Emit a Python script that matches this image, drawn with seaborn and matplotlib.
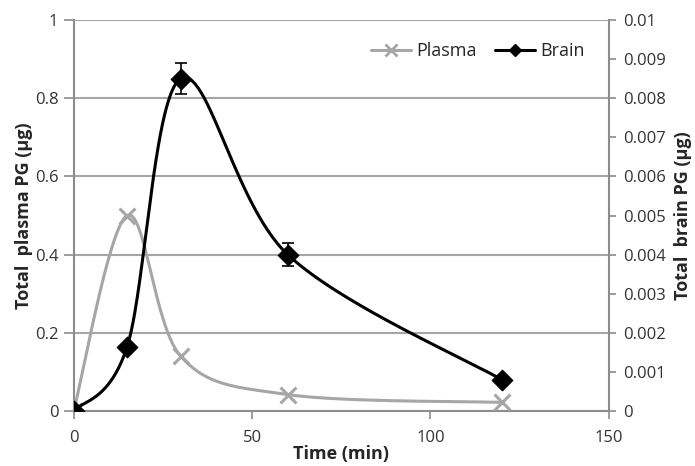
import numpy as np
import pandas as pd
import matplotlib
matplotlib.use("Agg")
import matplotlib.pyplot as plt
import seaborn as sns
from matplotlib.lines import Line2D

# data
time_min = [0, 15, 30, 60, 120]
plasma_pg = [0.0, 0.50, 0.14, 0.042, 0.022]
brain_pg = [0.0, 0.00165, 0.0085, 0.0040, 0.0008]
brain_err = [0.0, 0.0, 0.0004, 0.0003, 0.0]

left_ticks = ["0", "0.2", "0.4", "0.6", "0.8", "1"]
right_ticks = ["0", "0.001", "0.002", "0.003", "0.004", "0.005",
               "0.006", "0.007", "0.008", "0.009", "0.01"]

X_MAX = 150
PX_W, PX_H = 535.0, 391.0  # plot area in pixels, used for screen-space smoothing


def excel_smooth(xs, ys, y_max, n=60):
    # Catmull-Rom style Bezier like Excel's "smoothed line", done in screen units
    px = np.array(xs, float) / X_MAX * PX_W
    py = np.array(ys, float) / y_max * PX_H
    pts = np.column_stack([px, py])
    pts = np.vstack([pts[0], pts, pts[-1]])
    out = []
    for i in range(1, len(pts) - 2):
        p0, p1, p2, p3 = pts[i - 1], pts[i], pts[i + 1], pts[i + 2]
        b1 = p1 + (p2 - p0) / 6.0
        b2 = p2 - (p3 - p1) / 6.0
        t = np.linspace(0, 1, n)[:, None]
        seg = ((1 - t) ** 3) * p1 + 3 * ((1 - t) ** 2) * t * b1 + 3 * (1 - t) * t ** 2 * b2 + t ** 3 * p2
        out.append(seg if i == 1 else seg[1:])
    out = np.vstack(out)
    return out[:, 0] / PX_W * X_MAX, out[:, 1] / PX_H * y_max


sns.set_theme(style="white")
plt.rcParams["font.family"] = ["Open Sans", "DejaVu Sans"]

grey = "#A6A6A6"
axis_grey = "#8C8C8C"

fig = plt.figure(figsize=(6.95, 4.66), dpi=100)
ax = fig.add_axes([0.106, 0.118, 0.770, 0.839])
ax2 = ax.twinx()

sx, sy = excel_smooth(time_min, plasma_pg, 1.0)
sns.lineplot(x=sx, y=sy, ax=ax, color=grey, linewidth=2.2, sort=False, zorder=3)
sns.scatterplot(x=time_min, y=plasma_pg, ax=ax, marker="x", s=130, color=grey,
                linewidth=2.2, zorder=4)

bx, by = excel_smooth(time_min, brain_pg, 0.01)
sns.lineplot(x=bx, y=by, ax=ax2, color="black", linewidth=2.2, sort=False, zorder=3)
ax2.errorbar(time_min, brain_pg, yerr=brain_err, fmt="none", ecolor="black",
             elinewidth=1.2, capsize=4, capthick=1.2, zorder=4)
sns.scatterplot(x=time_min, y=brain_pg, ax=ax2, marker="D", s=110, color="black",
                edgecolor="black", zorder=5)

ax.set_xlim(0, X_MAX)
ax.set_ylim(0, 1)
ax2.set_ylim(0, 0.01)
ax.set_xticks([0, 50, 100, 150])
ax.set_yticks(np.linspace(0, 1, len(left_ticks)))
ax.set_yticklabels(left_ticks)
ax2.set_yticks(np.linspace(0, 0.01, len(right_ticks)))
ax2.set_yticklabels(right_ticks)

ax.grid(axis="y", color=grey, linewidth=1.5)
ax.set_axisbelow(True)
for a in (ax, ax2):
    a.spines["top"].set_visible(False)
    for s in ("left", "right", "bottom"):
        a.spines[s].set_color(axis_grey)
        a.spines[s].set_linewidth(1.5)
ax2.spines["left"].set_visible(False)
ax2.spines["bottom"].set_visible(False)
ax.spines["right"].set_visible(False)

ax.tick_params(axis="both", which="both", direction="out", length=6, width=1.2,
               color=axis_grey, labelsize=12, labelcolor="#333333", pad=4)
ax.tick_params(axis="x", bottom=True, pad=8)
ax.tick_params(axis="y", left=True, length=7)
ax2.tick_params(axis="y", right=True, direction="out", length=5, width=1.2,
                color=axis_grey, labelsize=12, labelcolor="#333333", pad=5)

ax.set_xlabel("Time (min)", fontsize=13, fontweight="bold", labelpad=-1)
ax.set_ylabel("Total  plasma PG (\u03bcg)", fontsize=13, fontweight="bold")
ax2.set_ylabel("Total  brain PG (\u03bcg)", fontsize=13, fontweight="bold")
# the original has the axis titles sitting right against the tick labels
ax.yaxis.set_label_coords(-0.076, 0.5)
ax2.yaxis.set_label_coords(1.121, 0.5)

handles = [
    Line2D([0], [0], color=grey, linewidth=2.2, marker="x", markersize=9, markeredgewidth=2),
    Line2D([0], [0], color="black", linewidth=2.2, marker="D", markersize=6),
]
ax2.legend(handles, ["Plasma", "Brain"], loc="upper right", ncol=2, frameon=False,
           fontsize=13, handlelength=2.2, handletextpad=0.3, columnspacing=1.0,
           bbox_to_anchor=(0.985, 0.985))

fig.savefig("out.png", dpi=100)
